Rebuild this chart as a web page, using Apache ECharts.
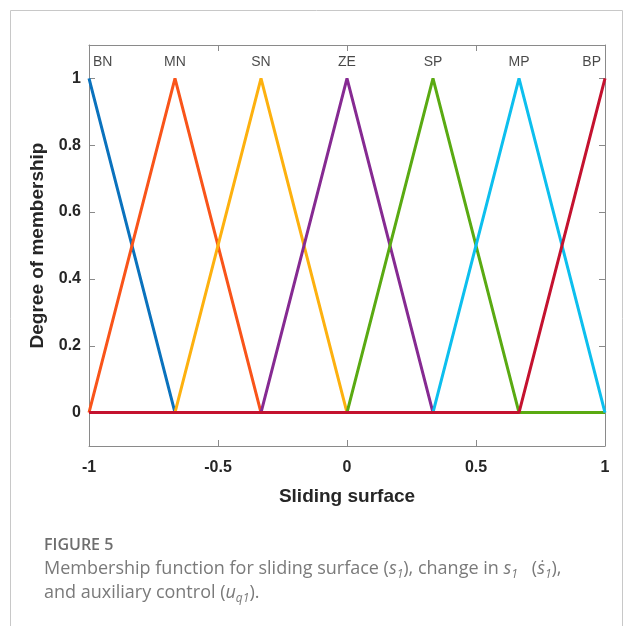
<!DOCTYPE html>
<html><head><meta charset="utf-8">
<script src="https://cdn.jsdelivr.net/npm/echarts@6/dist/echarts.min.js"></script>
<style>html,body{margin:0;padding:0;background:#fff}#c{width:625px;height:626px}</style>
</head><body><div id="c"></div>
<script>
// Breakpoints on the universe of discourse
const xPoints = [-1, -0.6667, -0.3333, 0, 0.3333, 0.6667, 1];
// Membership value of each fuzzy set at the breakpoints
const setNames = ['BN', 'MN', 'SN', 'ZE', 'SP', 'MP', 'BP'];
const BN = [1, 0, 0, 0, 0, 0, 0];
const MN = [0, 1, 0, 0, 0, 0, 0];
const SN = [0, 0, 1, 0, 0, 0, 0];
const ZE = [0, 0, 0, 1, 0, 0, 0];
const SP = [0, 0, 0, 0, 1, 0, 0];
const MP = [0, 0, 0, 0, 0, 1, 0];
const BP = [0, 0, 0, 0, 0, 0, 1];
const labelX = [-1, -0.6667, -0.3333, 0, 0.3333, 0.6667, 1];
const labelY = 1.048;
const yTicks = [0, 0.2, 0.4, 0.6, 0.8, 1];
const colors = ['#0a72bd', '#f9541a', '#fdb10f', '#862a92', '#5aaa12', '#0dbfee', '#c4122f'];
const allSets = [BN, MN, SN, ZE, SP, MP, BP];

const chart = echarts.init(document.getElementById('c'), null, {renderer: 'canvas'});
const axisColor = '#8a8a8a';
const lineSeries = allSets.map((ys, i) => ({
  type: 'line', name: setNames[i], xAxisIndex: 0, yAxisIndex: 0,
  data: xPoints.map((x, k) => [x, ys[k]]),
  symbol: 'none', lineStyle: {color: colors[i], width: 3}, z: 3 + i,
  animation: false
}));
const labelSeries = {
  type: 'scatter', xAxisIndex: 0, yAxisIndex: 0, symbolSize: 0, silent: true, animation: false,
  data: setNames.map((n, i) => ({
    value: [labelX[i], labelY], name: n,
    label: {align: i === 0 ? 'left' : (i === setNames.length - 1 ? 'right' : 'center'),
            offset: i === 0 ? [4, 0] : (i === setNames.length - 1 ? [-4, 0] : [0, 0])}
  })),
  label: {show: true, position: 'inside', formatter: p => p.name, color: '#1a1a1a',
          fontSize: 14, fontFamily: 'Liberation Sans, Arial, sans-serif'}
};
const tickLabelStyle = {color: '#262626', fontSize: 16, fontWeight: 'bold', fontFamily: 'Liberation Sans, Arial, sans-serif'};

chart.setOption({
  backgroundColor: '#fff',
  animation: false,
  grid: {left: 89, right: 20, top: 45, bottom: 180, containLabel: false},
  xAxis: [
    {type: 'value', min: -1, max: 1, interval: 0.5, position: 'bottom',
     axisLine: {show: true, onZero: false, lineStyle: {color: axisColor, width: 1}},
     axisTick: {show: true, inside: true, length: 6, lineStyle: {color: axisColor}},
     splitLine: {show: false},
     axisLabel: Object.assign({margin: 14, formatter: v => String(v)}, tickLabelStyle),
     name: 'Sliding surface', nameLocation: 'middle', nameGap: 41,
     nameTextStyle: {color: '#262626', fontSize: 19, fontWeight: 'bold', fontFamily: 'Liberation Sans, Arial, sans-serif'}},
    {type: 'value', min: -1, max: 1, interval: 0.5, position: 'top',
     axisLine: {show: true, onZero: false, lineStyle: {color: axisColor, width: 1}},
     axisTick: {show: true, inside: true, length: 6, lineStyle: {color: axisColor}},
     axisLabel: {show: false}, splitLine: {show: false}}
  ],
  yAxis: [
    {type: 'value', min: -0.1, max: 1.1, position: 'left',
     axisLine: {show: true, onZero: false, lineStyle: {color: axisColor, width: 1}},
     axisTick: {show: true, inside: true, length: 6, customValues: yTicks, lineStyle: {color: axisColor}},
     splitLine: {show: false},
     axisLabel: Object.assign({margin: 8, customValues: yTicks, formatter: v => String(+v.toFixed(1))}, tickLabelStyle),
     name: 'Degree of membership', nameLocation: 'middle', nameGap: 42, nameRotate: 90,
     nameTextStyle: {color: '#262626', fontSize: 19, fontWeight: 'bold', fontFamily: 'Liberation Sans, Arial, sans-serif'}},
    {type: 'value', min: -0.1, max: 1.1, position: 'right',
     axisLine: {show: true, onZero: false, lineStyle: {color: axisColor, width: 1}},
     axisTick: {show: true, inside: true, length: 6, customValues: yTicks, lineStyle: {color: axisColor}},
     axisLabel: {show: false}, splitLine: {show: false}}
  ],
  series: lineSeries.concat([labelSeries]),
  graphic: [
    {type: 'rect', shape: {x: 10.5, y: 10.5, width: 612, height: 640}, style: {fill: 'none', stroke: '#c8c8c8', lineWidth: 1}, silent: true, z: -1},
    {type: 'text', left: 44, top: 537, style: {text: 'FIGURE 5', fill: '#6e6e6e', font: '600 16px "Open Sans", sans-serif'}},
    {type: 'text', left: 44, top: 560, style: {
      text: '{n|Membership function for sliding surface (}{i|s}{sub|1}{n|), change in }{i|s}{sub|1}{n|   (}{i|ṡ}{sub|1}{n|),}\n{n|and auxiliary control (}{i|u}{sub|q1}{n|).}',
      rich: {
        n: {fill: '#7a7a7a', font: '18px "Open Sans", sans-serif', lineHeight: 24},
        i: {fill: '#7a7a7a', font: 'italic 18px "Open Sans", sans-serif', lineHeight: 24},
        sub: {fill: '#7a7a7a', font: 'italic 12px "Open Sans", sans-serif', lineHeight: 24, verticalAlign: 'bottom'}
      }
    }}
  ]
});
</script></body></html>
